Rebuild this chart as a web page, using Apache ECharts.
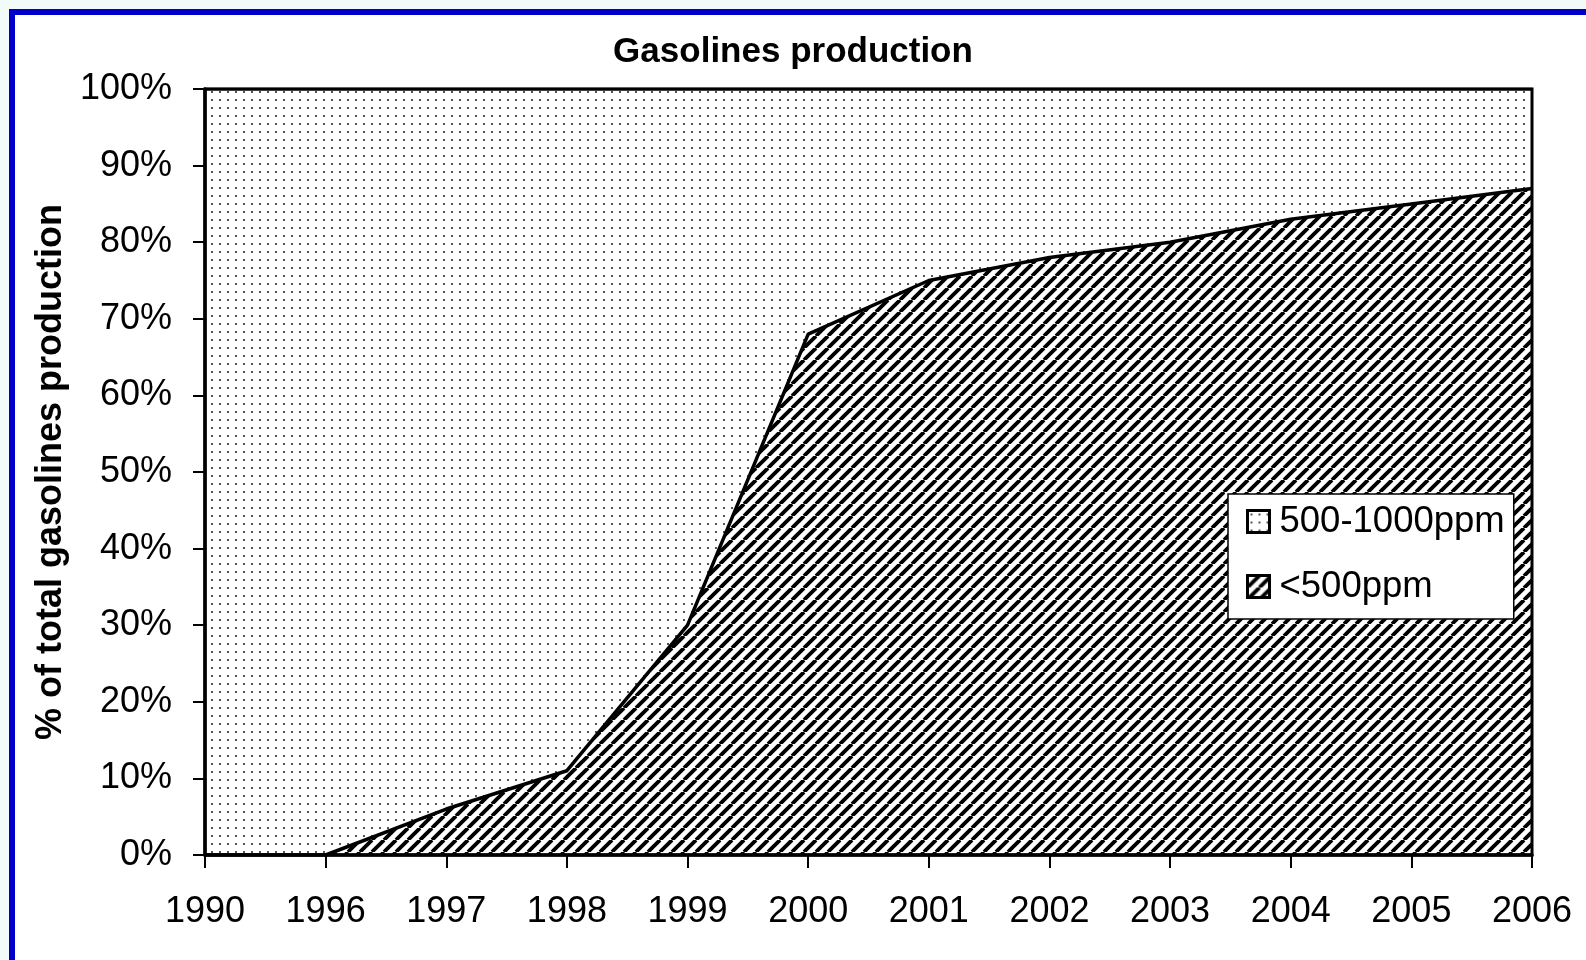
<!DOCTYPE html>
<html>
<head>
<meta charset="utf-8">
<script src="https://cdn.jsdelivr.net/npm/echarts@6/dist/echarts.min.js"></script>
<style>
html,body{margin:0;padding:0;width:1586px;height:960px;overflow:hidden;background:#f3fafa;}
#frame{position:absolute;left:9px;top:9px;width:1600px;height:1000px;border:6px solid #0000cc;background:#fff;}
#chart{position:absolute;left:0;top:0;width:1586px;height:960px;}
</style>
</head>
<body>
<div id="frame"></div>
<div id="chart"></div>
<script>
// ---- data ----
const years = ['1990','1996','1997','1998','1999','2000','2001','2002','2003','2004','2005','2006'];
const lowSulfur = [0, 0, 6, 11, 30, 68, 75, 78, 80, 83, 85, 87];      // <500ppm
const midSulfur = [100, 100, 94, 89, 70, 32, 25, 22, 20, 17, 15, 13]; // 500-1000ppm
const yTicks = [0,10,20,30,40,50,60,70,80,90,100];
const seriesNames = ['500-1000ppm', '<500ppm'];

// ---- patterns ----
function dotPattern(){
  const w = 8, h = 8;
  const c = document.createElement('canvas');
  c.width = w; c.height = h;
  const g = c.getContext('2d');
  g.fillStyle = '#fff'; g.fillRect(0,0,w,h);
  g.fillStyle = '#555'; g.fillRect(3,3,2,2);
  return {image: c, repeat: 'repeat'};
}
function hatchPattern(){
  const s = 12;
  const c = document.createElement('canvas');
  c.width = s; c.height = s;
  const g = c.getContext('2d');
  g.fillStyle = '#fff'; g.fillRect(0,0,s,s);
  g.strokeStyle = '#000'; g.lineWidth = 3.8;
  for (let k=-1;k<=1;k++){
    g.beginPath();
    g.moveTo(k*s, s); g.lineTo(k*s+s, 0);
    g.stroke();
  }
  return {image: c, repeat: 'repeat'};
}
const dots = dotPattern();
const hatch = hatchPattern();
const FONT = 'Arial, "Liberation Sans", sans-serif';

const chart = echarts.init(document.getElementById('chart'), null, {renderer:'canvas'});
chart.setOption({
  backgroundColor: 'transparent',
  animation: false,
  title: {
    text: 'Gasolines production',
    left: 'center', top: 30,
    textStyle: {fontFamily: FONT, fontWeight: 'bold', fontSize: 35, color: '#000'}
  },
  grid: {left: 205, right: 54, top: 89, bottom: 105, show: true, borderColor: '#000', borderWidth: 3, z: 10},
  legend: {
    orient: 'vertical',
    left: 1228, top: 494,
    backgroundColor: '#fff',
    borderColor: '#000', borderWidth: 1.5,
    padding: [9, 9, 14, 18],
    itemWidth: 22, itemHeight: 22, itemGap: 28,
    textStyle: {fontFamily: FONT, fontSize: 36.5, color: '#000', lineHeight: 36, padding: [0,0,0,5]},
    data: [
      {name: seriesNames[0], icon: 'rect', itemStyle: {color: dots, borderColor: '#000', borderWidth: 3}},
      {name: seriesNames[1], icon: 'rect', itemStyle: {color: hatch, borderColor: '#000', borderWidth: 3}}
    ],
    z: 20
  },
  xAxis: {
    type: 'category',
    data: years,
    boundaryGap: false,
    z: 11,
    axisLine: {show: true, lineStyle: {color: '#000', width: 3.5}},
    axisTick: {show: true, length: 13, lineStyle: {color: '#000', width: 2}},
    axisLabel: {fontFamily: FONT, fontSize: 36, color: '#000', margin: 39},
    splitLine: {show: false}
  },
  yAxis: {
    type: 'value',
    min: 0, max: 100, interval: 10,
    z: 11,
    name: '% of total gasolines production',
    nameLocation: 'middle',
    nameGap: 134,
    nameRotate: 90,
    nameTextStyle: {fontFamily: FONT, fontWeight: 'bold', fontSize: 36, color: '#000'},
    axisLine: {show: true, lineStyle: {color: '#000', width: 3.5}},
    axisTick: {show: true, length: 12, lineStyle: {color: '#000', width: 2}},
    axisLabel: {fontFamily: FONT, fontSize: 36, color: '#000', margin: 33,
      formatter: function(v){ return yTicks.indexOf(v) >= 0 ? v + '%' : ''; }},
    splitLine: {show: false}
  },
  series: [
    {
      name: seriesNames[1],
      type: 'line',
      stack: 'total',
      data: lowSulfur,
      showSymbol: false,
      symbol: 'none',
      itemStyle: {color: hatch},
      lineStyle: {color: '#000', width: 3.5},
      areaStyle: {color: hatch, opacity: 1},
      z: 3
    },
    {
      name: seriesNames[0],
      type: 'line',
      stack: 'total',
      data: midSulfur,
      showSymbol: false,
      symbol: 'none',
      itemStyle: {color: dots},
      lineStyle: {color: '#000', width: 3},
      areaStyle: {color: dots, opacity: 1},
      z: 2
    }
  ]
});
</script>
</body>
</html>
